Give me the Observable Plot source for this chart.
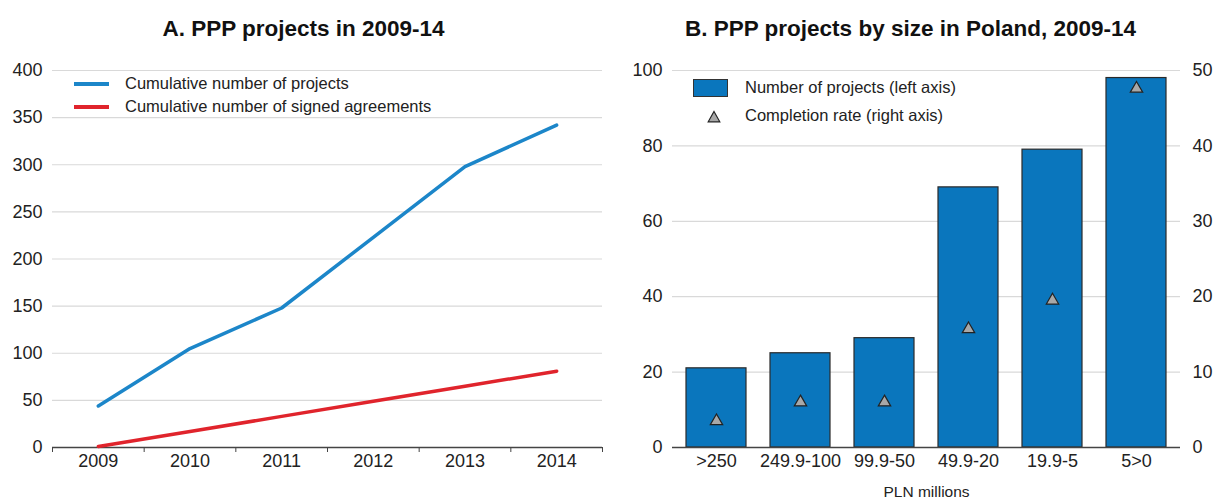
<!DOCTYPE html>
<html>
<head>
<meta charset="utf-8">
<script src="https://cdn.jsdelivr.net/npm/d3@7"></script>
<script src="https://cdn.jsdelivr.net/npm/@observablehq/plot@0.6"></script>
<style>
  html, body { margin: 0; padding: 0; background: #fff; }
  body { width: 1214px; height: 503px; overflow: hidden; font-family: "Liberation Sans", Arial, Helvetica, sans-serif; color: #222; }
  #wrap { display: flex; width: 1214px; }
  .panel { position: relative; width: 607px; }
  .title { box-sizing: border-box; height: 54px; padding-top: 17px; line-height: 24px; text-align: center; font-weight: bold; font-size: 22.5px; color: #111; }
  .leg { position: absolute; font-size: 16.5px; line-height: 19px; color: #222; white-space: nowrap; }
  .legline { position: absolute; height: 4px; }
  .legrect { position: absolute; box-sizing: border-box; border: 1px solid #333; background: #0a76bd; }
  svg { display: block; }
</style>
</head>
<body>
<div id="wrap">
  <div class="panel" id="pA">
    <div class="title">A. PPP projects in 2009-14</div>
    <div class="legline" style="left:74px; top:82px; width:35px; background:#1c86c9;"></div>
    <div class="leg" style="left:125px; top:74px;">Cumulative number of projects</div>
    <div class="legline" style="left:74px; top:105px; width:35px; background:#e0242c;"></div>
    <div class="leg" style="left:125px; top:97px;">Cumulative number of signed agreements</div>
  </div>
  <div class="panel" id="pB">
    <div class="title">B. PPP projects by size in Poland, 2009-14</div>
    <div class="legrect" style="left:86px; top:79px; width:35px; height:18px;"></div>
    <div class="leg" style="left:138px; top:78px;">Number of projects (left axis)</div>
    <svg style="position:absolute; left:100px; top:110px;" width="14" height="14"><path d="M7,1.5 L12.8,11.8 L1.2,11.8 Z" fill="#a8a8a8" stroke="#222" stroke-width="1.2"/></svg>
    <div class="leg" style="left:138px; top:106px;">Completion rate (right axis)</div>
  </div>
</div>
<script>
// ---- Data ----
const years = [2009, 2010, 2011, 2012, 2013, 2014];
const cumProjects = [44, 105, 148, 223, 298, 342];
const cumSigned = [1, 17, 33, 49, 65, 81];

const sizeCats = [">250", "249.9-100", "99.9-50", "49.9-20", "19.9-5", "5>0"];
const numProjects = [21, 25, 29, 69, 79, 98];
const completionRate = [3.5, 6.0, 6.0, 15.7, 19.5, 47.6];

const leftTicks = [0, 50, 100, 150, 200, 250, 300, 350, 400];
const barTicks = [0, 20, 40, 60, 80, 100];
const rateTicks = [0, 10, 20, 30, 40, 50];

const FONT = '"Liberation Sans", Arial, Helvetica, sans-serif';
const TICK_FS = 18;

// ---- Panel A ----
const lineData = years.flatMap((y, i) => [
  {year: y, value: cumProjects[i], series: "projects"},
  {year: y, value: cumSigned[i], series: "signed"}
]);
const boundaries = d3.range(years[0] - 0.5, years[years.length - 1] + 1, 1);

const chartA = Plot.plot({
  width: 607,
  height: 449,
  marginLeft: 52,
  marginRight: 5,
  marginTop: 16,
  marginBottom: 56,
  style: {fontFamily: FONT, fontSize: TICK_FS + "px", color: "#222", background: "#fff"},
  x: {domain: [years[0] - 0.5, years[years.length - 1] + 0.5]},
  y: {domain: [0, 400]},
  color: {domain: ["projects", "signed"], range: ["#1c86c9", "#e0242c"]},
  marks: [
    Plot.gridY(leftTicks.slice(1), {stroke: "#d9d9d9", strokeOpacity: 1, strokeWidth: 1.2}),
    Plot.axisY(leftTicks, {tickSize: 0, tickPadding: 10, label: null, fontSize: TICK_FS}),
    Plot.axisX(boundaries, {tickSize: 5, tickFormat: () => "", label: null, stroke: "#444"}),
    Plot.axisX(years, {tickSize: 0, tickPadding: 7, tickFormat: d => String(d), label: null, fontSize: TICK_FS}),
    Plot.ruleY([0], {stroke: "#444", strokeWidth: 1.5}),
    Plot.line(lineData, {x: "year", y: "value", stroke: "series", z: "series", strokeWidth: 3.5})
  ]
});
document.getElementById("pA").appendChild(chartA);

// ---- Panel B ----
const barData = sizeCats.map((c, i) => ({cat: c, n: numProjects[i], rate: completionRate[i]}));

const chartB = Plot.plot({
  width: 607,
  height: 449,
  marginLeft: 65,
  marginRight: 34,
  marginTop: 16,
  marginBottom: 56,
  style: {fontFamily: FONT, fontSize: TICK_FS + "px", color: "#222", background: "#fff"},
  x: {domain: sizeCats, paddingInner: 0.282, paddingOuter: 0.146},
  y: {domain: [0, 100]},
  marks: [
    Plot.gridY(barTicks.slice(1), {stroke: "#d9d9d9", strokeOpacity: 1, strokeWidth: 1.2}),
    Plot.axisY(barTicks, {anchor: "left", tickSize: 0, tickPadding: 10, label: null, fontSize: TICK_FS}),
    Plot.axisY(rateTicks.map(t => t * 2), {anchor: "right", tickSize: 0, tickPadding: 12, tickFormat: d => String(d / 2), label: null, fontSize: TICK_FS}),
    Plot.axisX({tickSize: 0, tickPadding: 7, label: null, fontSize: TICK_FS}),
    Plot.barY(barData, {x: "cat", y: "n", fill: "#0a76bd", stroke: "#2a2a2a", strokeWidth: 1.2}),
    Plot.ruleY([0], {stroke: "#444", strokeWidth: 1.5}),
    Plot.dot(barData, {x: "cat", y: d => d.rate * 2, symbol: "triangle", r: 4.6, fill: "#a8a8a8", stroke: "#222", strokeWidth: 1.2}),
    Plot.text(["PLN millions"], {frameAnchor: "bottom", lineAnchor: "middle", dy: 45, fontSize: 15.5, fill: "#222"})
  ]
});
document.getElementById("pB").appendChild(chartB);
</script>
</body>
</html>
